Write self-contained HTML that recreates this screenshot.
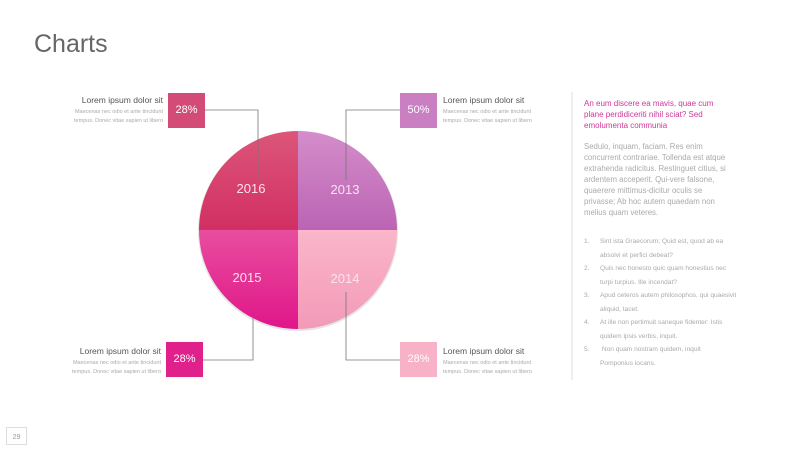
<!DOCTYPE html>
<html><head><meta charset="utf-8"><style>
body{margin:0;width:800px;height:450px;background:#fff;font-family:"Liberation Sans",sans-serif;position:relative;overflow:hidden}
.a{position:absolute}
.h{font-size:8.5px;color:#555;white-space:nowrap}
.s{font-size:5.5px;color:#aaa;line-height:9px;white-space:nowrap}
.r{text-align:right}
.box{position:absolute;width:37px;height:35px;color:#fff;font-size:11px;text-align:center;line-height:35px}
</style></head><body>
<div class="a" style="left:34px;top:30px;font-size:25px;color:#666">Charts</div>

<svg class="a" style="left:0;top:0" width="800" height="450">
<defs>
<linearGradient id="g1" x1="0" y1="0" x2="0" y2="1"><stop offset="0" stop-color="#dc5679"/><stop offset="1" stop-color="#d22f64"/></linearGradient>
<linearGradient id="g2" x1="0" y1="0" x2="0" y2="1"><stop offset="0" stop-color="#d48dca"/><stop offset="1" stop-color="#bb64b4"/></linearGradient>
<linearGradient id="g3" x1="0" y1="0" x2="0" y2="1"><stop offset="0" stop-color="#e84e9e"/><stop offset="1" stop-color="#e0168a"/></linearGradient>
<linearGradient id="g4" x1="0" y1="0" x2="0" y2="1"><stop offset="0" stop-color="#fbb6ca"/><stop offset="1" stop-color="#f29ab8"/></linearGradient>
</defs>
<circle cx="298" cy="231" r="100" fill="#ccc" opacity="0.5"/>
<path d="M298 230 L199 230 A99 99 0 0 1 298 131 Z" fill="url(#g1)"/>
<path d="M298 230 L298 131 A99 99 0 0 1 397 230 Z" fill="url(#g2)"/>
<path d="M298 230 L397 230 A99 99 0 0 1 298 329 Z" fill="url(#g4)"/>
<path d="M298 230 L298 329 A99 99 0 0 1 199 230 Z" fill="url(#g3)"/>
<g font-size="13" fill="#fbe3ee" text-anchor="middle" font-family="Liberation Sans,sans-serif">
<text x="251" y="193">2016</text><text x="345" y="194">2013</text>
<text x="247" y="282">2015</text><text x="345" y="283">2014</text></g>
<g stroke="#777" stroke-width="0.8" fill="none">
<path d="M205 110 H258 V180"/><path d="M400 110 H346 V180"/>
<path d="M203 360 H253 V317"/><path d="M400 360 H346 V292"/>
</g>
<line x1="572" y1="92" x2="572" y2="380" stroke="#ddd" stroke-width="1"/>
<rect x="6.5" y="427.5" width="20" height="17" fill="none" stroke="#ddd"/>
<text x="16.5" y="439" font-size="7" fill="#999" text-anchor="middle" font-family="Liberation Sans,sans-serif">29</text>
</svg>

<div class="box" style="left:168px;top:93px;background:#d24c77">28%</div>
<div class="box" style="left:400px;top:93px;background:#c97fc1">50%</div>
<div class="box" style="left:166px;top:342px;background:#e0218b">28%</div>
<div class="box" style="left:400px;top:342px;background:#f8b2c8">28%</div>

<div class="a r" style="right:637px;top:95px"><div class="h">Lorem ipsum dolor sit</div><div class="s" style="margin-top:3px">Maecenas nec odio et ante tincidunt<br>tempus. Donec vitae sapien ut libero</div></div>
<div class="a r" style="right:639px;top:346px"><div class="h">Lorem ipsum dolor sit</div><div class="s" style="margin-top:3px">Maecenas nec odio et ante tincidunt<br>tempus. Donec vitae sapien ut libero</div></div>
<div class="a" style="left:443px;top:95px"><div class="h">Lorem ipsum dolor sit</div><div class="s" style="margin-top:3px">Maecenas nec odio et ante tincidunt<br>tempus. Donec vitae sapien ut libero</div></div>
<div class="a" style="left:443px;top:346px"><div class="h">Lorem ipsum dolor sit</div><div class="s" style="margin-top:3px">Maecenas nec odio et ante tincidunt<br>tempus. Donec vitae sapien ut libero</div></div>

<div class="a" style="left:584px;top:98px;font-size:8px;line-height:11px;color:#d0369a;white-space:nowrap">An eum discere ea mavis, quae cum<br>plane perdidiceriti nihil sciat? Sed<br>emolumenta communia</div>
<div class="a" style="left:584px;top:141px;font-size:7.8px;line-height:11px;color:#aaa;white-space:nowrap">Sedulo, inquam, faciam. Res enim<br>concurrent contrariae. Tollenda est atque<br>extrahenda radicitus. Restinguet citius, si<br>ardentem acceperit. Qui-vere falsone,<br>quaerere mittimus-dicitur oculis se<br>privasse; Ab hoc autem quaedam non<br>melius quam veteres.</div>
<div class="a" style="left:584px;top:235px;font-size:6.6px;line-height:13.5px;color:#aaa;white-space:nowrap">
<div style="display:flex"><span style="width:16px">1.</span><span>Sint ista Graecorum; Quid est, quod ab ea<br>absolvi et perfici debeat?</span></div>
<div style="display:flex"><span style="width:16px">2.</span><span>Quis nec honesto quic quam honestius nec<br>turpi turpius. Ille incendat?</span></div>
<div style="display:flex"><span style="width:16px">3.</span><span>Apud ceteros autem philosophos, qui quaesivit<br>aliquid, tacet.</span></div>
<div style="display:flex"><span style="width:16px">4.</span><span>At ille non pertimuit saneque fidenter: Istis<br>quidem ipsis verbis, inquit.</span></div>
<div style="display:flex"><span style="width:16px">5.</span><span>&nbsp;Non quam nostram quidem, inquit<br>Pomponius iocans.</span></div>
</div>
</body></html>
